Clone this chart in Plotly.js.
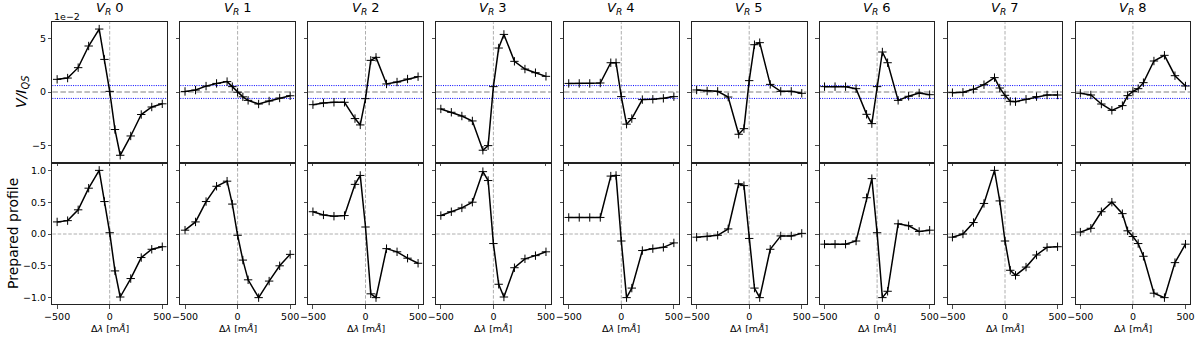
<!DOCTYPE html>
<html>
<head>
<meta charset="utf-8">
<script src="https://cdn.plot.ly/plotly-3.0.1.min.js"></script>
<style>
  html, body { margin: 0; padding: 0; background: #fff; }
  #graph { width: 1200px; height: 341px; }
</style>
</head>
<body>
<div id="graph"></div>
<script>
//***** data
// wavelength offsets [mA]
var dl = [-500, -400, -300, -200, -100, -50, 0, 50, 100, 200, 300, 400, 500];
var panelLabels = ['0', '1', '2', '3', '4', '5', '6', '7', '8'];

// top row: V/I_QS in units of 1e-2
var vOverI = [
  [1.18, 1.3, 2.27, 4.29, 5.87, 3.04, 0.06, -3.5, -5.9, -4.1, -2.1, -1.4, -1.1],
  [0.05, 0.18, 0.55, 0.8, 0.97, 0.5, -0.02, -0.45, -0.78, -1.12, -0.84, -0.56, -0.35],
  [-1.18, -1.02, -0.96, -0.96, -2.48, -3.07, -0.62, 2.95, 3.23, 0.75, 0.93, 1.21, 1.43],
  [-1.58, -1.89, -2.24, -2.7, -5.43, -5.0, 0.5, 4.1, 5.37, 2.86, 2.14, 1.8, 1.46],
  [0.8, 0.8, 0.8, 0.84, 2.73, 2.73, -0.43, -3.0, -2.48, -0.71, -0.68, -0.59, -0.43],
  [0.19, 0.09, 0.06, -0.47, -3.94, -3.42, 1.06, 4.41, 4.6, 0.71, 0.06, 0.06, -0.12],
  [0.5, 0.5, 0.5, 0.31, -2.08, -2.95, 0.5, 3.73, 2.73, -0.78, -0.4, -0.09, -0.25],
  [-0.06, -0.03, 0.25, 0.68, 1.34, 0.37, -0.31, -0.87, -0.9, -0.68, -0.43, -0.28, -0.28],
  [-0.12, -0.28, -1.12, -1.71, -1.27, -0.34, 0.06, 0.31, 0.87, 2.89, 3.42, 1.52, 0.56]
];

// bottom row: prepared (normalised) profiles
var prepared = [
  [0.19, 0.21, 0.38, 0.72, 1.0, 0.51, 0.02, -0.58, -0.99, -0.7, -0.37, -0.24, -0.2],
  [0.06, 0.19, 0.51, 0.75, 0.83, 0.47, -0.02, -0.41, -0.72, -1.0, -0.74, -0.5, -0.32],
  [0.35, 0.3, 0.28, 0.29, 0.78, 0.92, 0.11, -0.94, -1.0, -0.23, -0.28, -0.38, -0.46],
  [0.29, 0.35, 0.41, 0.5, 0.98, 0.84, -0.15, -0.79, -0.99, -0.53, -0.39, -0.34, -0.28],
  [0.26, 0.26, 0.26, 0.26, 0.91, 0.92, -0.11, -1.0, -0.85, -0.26, -0.23, -0.21, -0.14],
  [-0.05, -0.04, -0.02, 0.08, 0.79, 0.76, -0.07, -0.85, -1.0, -0.24, -0.03, -0.03, 0.01],
  [-0.16, -0.16, -0.16, -0.11, 0.57, 0.87, 0.02, -1.0, -0.9, 0.16, 0.13, 0.04, 0.06],
  [-0.05, 0.0, 0.18, 0.48, 1.0, 0.52, -0.11, -0.57, -0.65, -0.52, -0.33, -0.21, -0.2],
  [0.03, 0.09, 0.35, 0.5, 0.32, 0.05, -0.04, -0.15, -0.35, -0.93, -1.0, -0.45, -0.16]
];

// noise level drawn as blue dotted lines (units of 1e-2)
var noiseLevel = [-0.6, 0.6];

var xTicks = [-500, 0, 500];
var xTickText = ['\u2212500', '0', '500'];
var topTicks = [-5, 0, 5];
var topTickText = ['\u22125', '0', '5'];
var botTicks = [-1, -0.5, 0, 0.5, 1];
var botTickText = ['\u22121.0', '\u22120.5', '0.0', '0.5', '1.0'];
//***** End of data

var W = 1200, H = 341;
var FONT = 'DejaVu Sans';
var TICK_SIZE = 9.5;
function px(x) { return x / W; }
function py(y) { return 1 - y / H; }

var left0 = 52.4, pitch = 127.9, pw = 114.6;
var rowBox = [{top: 22.3, bot: 161.7}, {top: 164, bot: 304}];

var data = [];
var layout = {
  width: W,
  height: H,
  margin: {l: 0, r: 0, t: 0, b: 0},
  paper_bgcolor: '#fff',
  plot_bgcolor: '#fff',
  showlegend: false,
  font: {family: FONT, size: TICK_SIZE, color: '#000'},
  shapes: [],
  annotations: []
};

function baseAxis() {
  return {
    showline: true,
    mirror: true,
    linecolor: '#222',
    linewidth: 1,
    ticks: 'outside',
    ticklen: 3.5,
    tickwidth: 0.8,
    tickcolor: '#222',
    showgrid: false,
    zeroline: false,
    fixedrange: true,
    tickfont: {family: FONT, size: TICK_SIZE, color: '#000'}
  };
}

for (var r = 0; r < 2; r++) {
  for (var i = 0; i < 9; i++) {
    var n = r * 9 + i + 1;
    var xn = n === 1 ? 'x' : 'x' + n;
    var yn = n === 1 ? 'y' : 'y' + n;
    var xl = left0 + i * pitch;

    var xa = baseAxis();
    xa.domain = [px(xl), px(xl + pw)];
    xa.range = [-545, 545];
    xa.tickmode = 'array';
    xa.tickvals = xTicks;
    xa.ticktext = xTickText;
    xa.showticklabels = (r === 1);
    xa.anchor = yn;

    var ya = baseAxis();
    ya.domain = [py(rowBox[r].bot), py(rowBox[r].top)];
    ya.tickmode = 'array';
    if (r === 0) {
      ya.range = [-6.5, 6.5];
      ya.tickvals = topTicks;
      ya.ticktext = topTickText;
    } else {
      ya.range = [-1.1, 1.1];
      ya.tickvals = botTicks;
      ya.ticktext = botTickText;
    }
    ya.showticklabels = (i === 0);
    ya.anchor = xn;

    layout[n === 1 ? 'xaxis' : 'xaxis' + n] = xa;
    layout[n === 1 ? 'yaxis' : 'yaxis' + n] = ya;

    data.push({
      x: dl,
      y: r === 0 ? vOverI[i] : prepared[i],
      xaxis: xn,
      yaxis: yn,
      type: 'scatter',
      mode: 'lines+markers',
      line: {color: '#000', width: 1.5},
      marker: {symbol: 'cross-thin', size: 6, color: '#000', line: {color: '#000', width: 1}},
      hoverinfo: 'skip'
    });

    // vertical dashed line at 0
    layout.shapes.push({
      type: 'line', xref: xn, yref: yn + ' domain', layer: 'below',
      x0: 0, x1: 0, y0: 0, y1: 1,
      line: {color: '#999', width: 0.8, dash: '3.5px,1.8px'}
    });
    if (r === 0) {
      // thicker gray dashed zero line
      layout.shapes.push({
        type: 'line', xref: xn + ' domain', yref: yn, layer: 'below',
        x0: 0, x1: 1, y0: 0, y1: 0,
        line: {color: '#aaa', width: 1.5, dash: '5.5px,2.5px'}
      });
      noiseLevel.forEach(function (lv) {
        layout.shapes.push({
          type: 'line', xref: xn + ' domain', yref: yn, layer: 'below',
          x0: 0, x1: 1, y0: lv, y1: lv,
          line: {color: '#0000ff', width: 1, dash: '1px,1.3px'}
        });
      });
      layout.annotations.push({
        xref: 'paper', yref: 'paper',
        x: px(xl + pw / 2), y: py(19.5), xanchor: 'center', yanchor: 'bottom',
        text: '<i>V</i><sub><i>R</i></sub> ' + panelLabels[i],
        showarrow: false,
        font: {family: FONT, size: 13, color: '#000'}
      });
    } else {
      layout.shapes.push({
        type: 'line', xref: xn + ' domain', yref: yn, layer: 'below',
        x0: 0, x1: 1, y0: 0, y1: 0,
        line: {color: '#999', width: 0.8, dash: '3.5px,1.8px'}
      });
      layout.annotations.push({
        xref: 'paper', yref: 'paper',
        x: px(xl + pw / 2), y: py(328), xanchor: 'center', yanchor: 'middle',
        text: '\u0394<i>\u03bb</i> [m<i>\u00c5</i>]',
        showarrow: false,
        font: {family: FONT, size: TICK_SIZE, color: '#000'}
      });
    }
  }
}

// offset text and row labels
layout.annotations.push({
  xref: 'paper', yref: 'paper', x: px(51.5), y: py(16.5), xanchor: 'left', yanchor: 'middle',
  text: '1e\u22122', showarrow: false, font: {family: FONT, size: TICK_SIZE, color: '#000'}
});
layout.annotations.push({
  xref: 'paper', yref: 'paper', x: px(22), y: py(92), xanchor: 'center', yanchor: 'middle',
  textangle: -90,
  text: '<i>V/I</i><sub><i>QS</i></sub>', showarrow: false,
  font: {family: FONT, size: 14, color: '#000'}
});
layout.annotations.push({
  xref: 'paper', yref: 'paper', x: px(13), y: py(234), xanchor: 'center', yanchor: 'middle',
  textangle: -90,
  text: 'Prepared profile', showarrow: false,
  font: {family: FONT, size: 14, color: '#000'}
});

function plotGraph() {
  Plotly.newPlot('graph', data, layout, {staticPlot: true, displayModeBar: false});
}
plotGraph();
</script>
</body>
</html>
